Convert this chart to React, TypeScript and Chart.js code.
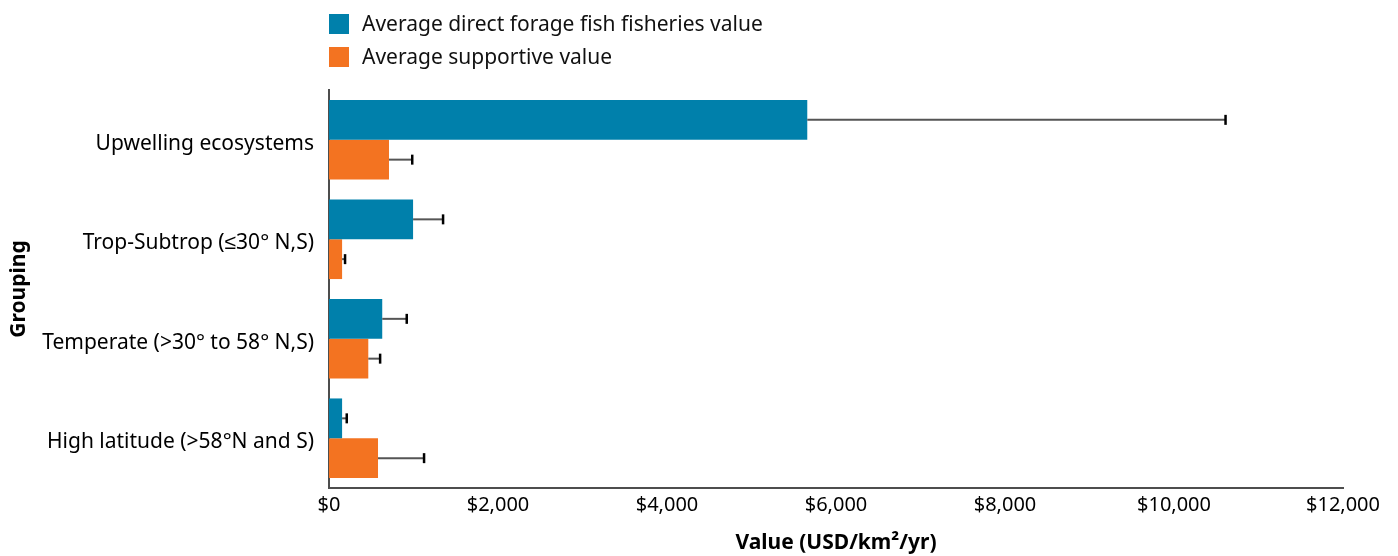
import React, { useEffect, useRef } from "react";
import { Chart, registerables } from "chart.js";

Chart.register(...registerables);

const categories = [
  "Upwelling ecosystems",
  "Trop-Subtrop (≤30° N,S)",
  "Temperate (>30° to 58° N,S)",
  "High latitude (>58°N and S)",
];
const directValues = [5660, 995, 630, 155];
const directErrors = [4950, 355, 290, 55];
const supportValues = [710, 155, 465, 580];
const supportErrors = [275, 35, 140, 545];
const seriesNames = ["Average direct forage fish fisheries value", "Average supportive value"];
const xTicks = [0, 2000, 4000, 6000, 8000, 10000, 12000];

const BLUE = "#0080ab";
const ORANGE = "#f37321";
const FONT = "'Noto Sans', sans-serif";

const errorBarPlugin = {
  id: "errorBars",
  afterDatasetsDraw(chart: any) {
    const ctx = chart.ctx;
    const xScale = chart.scales.x;
    chart.data.datasets.forEach((ds: any, di: number) => {
      const meta = chart.getDatasetMeta(di);
      meta.data.forEach((bar: any, i: number) => {
        const v = ds.data[i];
        const e = ds.errors[i];
        const xEnd = xScale.getPixelForValue(v + e);
        const y = bar.y;
        ctx.save();
        ctx.strokeStyle = "#555";
        ctx.lineWidth = 2;
        ctx.beginPath();
        ctx.moveTo(bar.x, y);
        ctx.lineTo(xEnd, y);
        ctx.stroke();
        ctx.strokeStyle = "#000";
        ctx.lineWidth = 2.5;
        ctx.beginPath();
        ctx.moveTo(xEnd, y - 5);
        ctx.lineTo(xEnd, y + 5);
        ctx.stroke();
        ctx.restore();
      });
    });
  },
};

const legendPlugin = {
  id: "customLegend",
  afterDraw(chart: any) {
    const ctx = chart.ctx;
    const left = chart.chartArea.left;
    ctx.save();
    ctx.font = `21px ${FONT}`;
    ctx.textBaseline = "middle";
    ctx.textAlign = "left";
    chart.data.datasets.forEach((ds: any, i: number) => {
      const top = 14 + i * 33;
      ctx.fillStyle = ds.backgroundColor;
      ctx.fillRect(left, top, 20, 20);
      ctx.fillStyle = "#111";
      ctx.fillText(ds.label, left + 33, top + 11);
    });
    ctx.restore();
  },
};

export default function App() {
  const ref = useRef<HTMLCanvasElement>(null);
  useEffect(() => {
    if (!ref.current) return;
    const chart = new Chart(ref.current, {
      type: "bar",
      data: {
        labels: categories,
        datasets: [
          {
            label: seriesNames[0],
            data: directValues,
            errors: directErrors,
            backgroundColor: BLUE,
            borderWidth: 0,
          } as any,
          {
            label: seriesNames[1],
            data: supportValues,
            errors: supportErrors,
            backgroundColor: ORANGE,
            borderWidth: 0,
          } as any,
        ],
      },
      options: {
        indexAxis: "y",
        animation: false,
        responsive: true,
        maintainAspectRatio: false,
        datasets: { bar: { categoryPercentage: 0.8, barPercentage: 1.0 } },
        layout: { padding: { top: 90, right: 55, left: 0, bottom: 0 } },
        plugins: {
          legend: { display: false },
          tooltip: { enabled: false },
        },
        scales: {
          x: {
            min: 0,
            max: 12000,
            afterBuildTicks: (scale: any) => {
              scale.ticks = xTicks.map((v) => ({ value: v }));
            },
            afterFit: (scale: any) => {
              scale.height = 68;
            },
            grid: { display: false, drawTicks: false },
            border: { display: true, color: "#4d4d4d", width: 2 },
            ticks: {
              padding: 5,
              color: "#000",
              font: { family: FONT, size: 20 },
              maxRotation: 0,
              callback: (v: any) => "$" + Number(v).toLocaleString("en-US"),
            },
            title: {
              display: true,
              text: "Value (USD/km²/yr)",
              color: "#000",
              font: { family: FONT, size: 21, weight: "bold" },
              padding: { top: 0, bottom: 0 },
            },
          },
          y: {
            afterFit: (scale: any) => {
              scale.width = 329;
            },
            grid: { display: false, drawTicks: false },
            border: { display: true, color: "#4d4d4d", width: 2 },
            ticks: {
              padding: 15,
              labelOffset: 4,
              color: "#000",
              font: { family: FONT, size: 21 },
            },
            title: {
              display: true,
              text: "Grouping",
              color: "#000",
              font: { family: FONT, size: 21, weight: "bold" },
              padding: { top: 6, bottom: 0 },
            },
          },
        },
      },
      plugins: [errorBarPlugin, legendPlugin],
    });
    return () => chart.destroy();
  }, []);
  return (
    <div style={{ position: "fixed", left: 0, top: 0, width: 1398, height: 556 }}>
      <canvas ref={ref} />
    </div>
  );
}
